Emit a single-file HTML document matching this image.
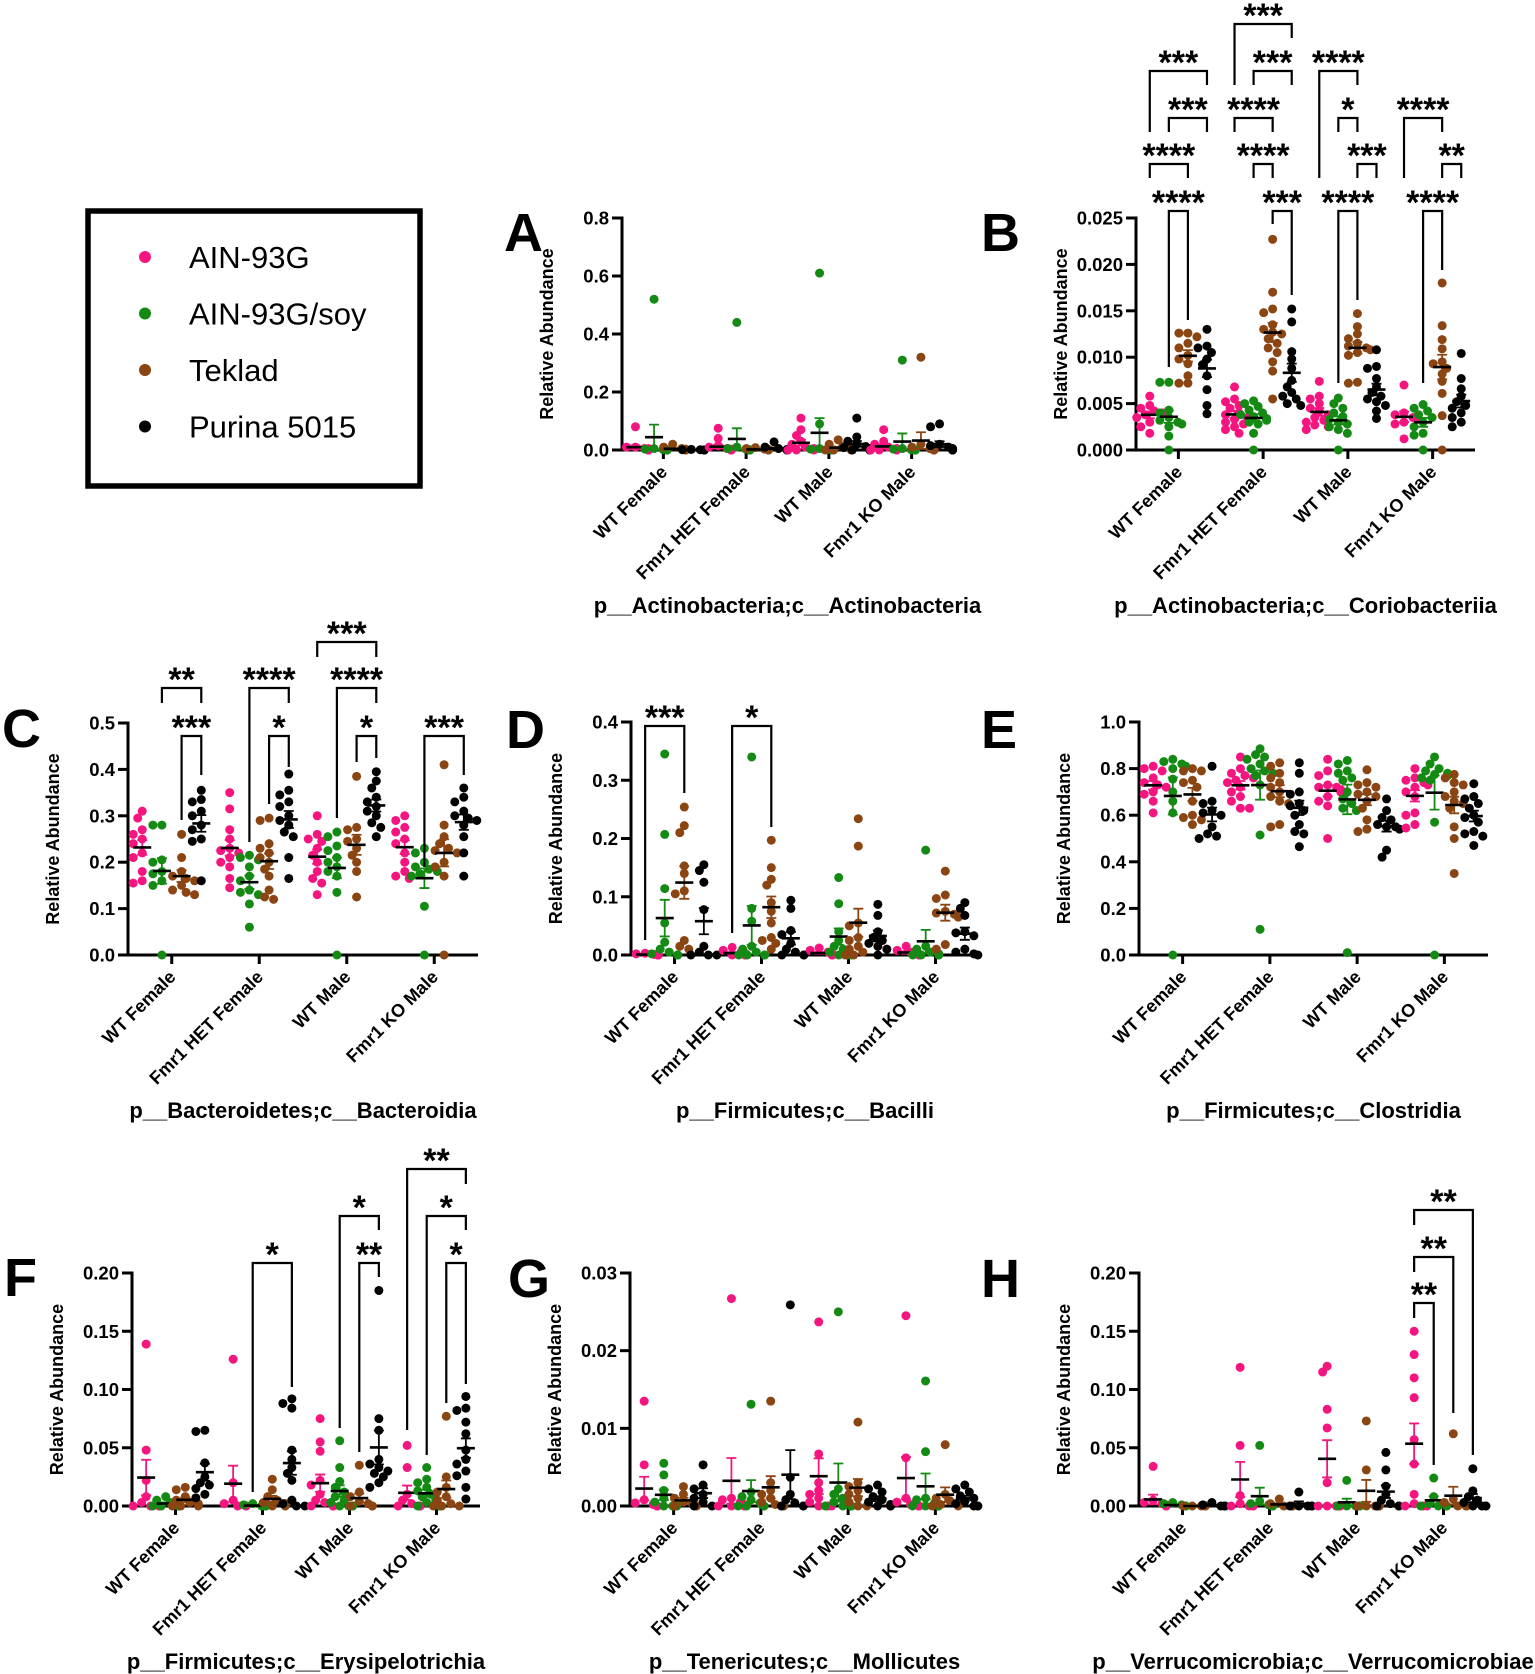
<!DOCTYPE html>
<html><head><meta charset="utf-8"><style>
html,body{margin:0;padding:0;background:#fff}
svg{display:block;font-family:"Liberation Sans",Arial,sans-serif}
</style></head><body>
<svg id="fig" width="1535" height="1674" viewBox="0 0 1535 1674" xmlns="http://www.w3.org/2000/svg"></svg>
<script>
const groups = ['WT Female','Fmr1 HET Female','WT Male','Fmr1 KO Male'];
const seriesNames = ['AIN-93G','AIN-93G/soy','Teklad','Purina 5015'];
const seriesColors = ['#f4157f','#148a14','#8b4513','#000000'];

const valuesA = [
 [[0.08,0.01,0.005,0.003,0.002,0.001,0,0,0,0,0.005,0.01],[0.52,0.005,0.003,0.002,0.001,0,0,0,0,0,0,0],[0.02,0.01,0.005,0.003,0.002,0.001,0,0,0,0],[0.002,0.001,0.001,0,0,0,0,0,0]],
 [[0.075,0.04,0.015,0.01,0.005,0.003,0.002,0,0,0,0,0,0],[0.44,0.01,0.005,0.003,0.001,0,0,0,0,0,0,0],[0.008,0.005,0.003,0.002,0.001,0,0,0,0],[0.028,0.01,0.005,0.002,0.001,0,0,0,0]],
 [[0.11,0.07,0.05,0.03,0.02,0.01,0.005,0.003,0.002,0,0,0],[0.61,0.09,0.005,0.003,0.002,0,0,0,0,0,0,0],[0.035,0.02,0.012,0.008,0.005,0.003,0.002,0,0,0,0],[0.11,0.045,0.03,0.02,0.012,0.008,0.005,0.002,0,0,0]],
 [[0.07,0.03,0.02,0.01,0.005,0.002,0,0,0,0,0],[0.31,0.005,0.003,0.001,0,0,0,0,0,0,0],[0.32,0.02,0.01,0.005,0.002,0,0,0,0,0,0],[0.09,0.08,0.02,0.015,0.01,0.005,0.003,0,0,0,0]]];
const valuesB = [
 [[0.0058,0.0048,0.0045,0.0042,0.004,0.0038,0.0035,0.003,0.0025,0.0018],[0.0073,0.0073,0.0043,0.004,0.0035,0.0032,0.003,0.0028,0.0025,0.0015,0],[0.0126,0.0126,0.0122,0.0115,0.011,0.0102,0.0098,0.0093,0.008,0.0072,0.0072],[0.013,0.0112,0.011,0.0105,0.0098,0.0092,0.008,0.0065,0.0048,0.0039]],
 [[0.0068,0.0055,0.0052,0.0048,0.0045,0.004,0.0038,0.0035,0.0033,0.003,0.0028,0.0025,0.0022,0.0018],[0.0053,0.005,0.0047,0.0043,0.004,0.0038,0.0036,0.0034,0.0032,0.003,0.0028,0.0018,0],[0.0227,0.017,0.0152,0.0148,0.0135,0.013,0.0127,0.0125,0.012,0.0115,0.011,0.0105,0.0095,0.0085,0.0055],[0.0152,0.0138,0.0106,0.0098,0.0088,0.0075,0.0068,0.0062,0.0058,0.0055,0.005,0.0048]],
 [[0.0074,0.0058,0.0055,0.005,0.0045,0.0042,0.0038,0.0035,0.0032,0.003,0.0027,0.0025,0.0022],[0.0056,0.005,0.0045,0.004,0.0036,0.0033,0.003,0.0028,0.0025,0.0022,0.0018,0],[0.0147,0.0133,0.0125,0.012,0.0115,0.0112,0.011,0.0108,0.0105,0.0102,0.0073,0.0072],[0.0108,0.009,0.0088,0.0077,0.0068,0.0062,0.0058,0.0055,0.0052,0.0048,0.0042,0.0034]],
 [[0.007,0.004,0.0038,0.0035,0.0033,0.003,0.0028,0.0012],[0.0049,0.0045,0.0042,0.0038,0.0035,0.003,0.0025,0.0018,0.0016,0],[0.018,0.0134,0.0119,0.0109,0.0095,0.0093,0.0088,0.0082,0.0074,0.0061,0.0037,0],[0.0104,0.0077,0.0066,0.0058,0.0052,0.0048,0.0045,0.004,0.0035,0.003,0.0025]]];
const valuesC = [
 [[0.31,0.295,0.27,0.26,0.25,0.24,0.22,0.21,0.18,0.16,0.155],[0.28,0.28,0.205,0.2,0.18,0.175,0.16,0.15,0],[0.26,0.21,0.18,0.17,0.165,0.16,0.15,0.14,0.135,0.13],[0.355,0.335,0.33,0.31,0.3,0.28,0.27,0.25,0.245,0.16]],
 [[0.35,0.315,0.27,0.25,0.23,0.225,0.22,0.21,0.2,0.19,0.165,0.145],[0.215,0.21,0.205,0.19,0.17,0.16,0.14,0.135,0.13,0.11,0.06],[0.295,0.29,0.24,0.23,0.22,0.21,0.2,0.185,0.17,0.14,0.125,0.12],[0.39,0.355,0.345,0.33,0.32,0.3,0.29,0.28,0.265,0.255,0.21,0.165]],
 [[0.3,0.26,0.25,0.245,0.23,0.215,0.2,0.18,0.165,0.155,0.13],[0.265,0.255,0.235,0.225,0.21,0.2,0.19,0.18,0.17,0.135,0],[0.385,0.275,0.27,0.25,0.245,0.23,0.215,0.2,0.18,0.125],[0.395,0.375,0.36,0.34,0.33,0.32,0.31,0.3,0.285,0.275,0.255]],
 [[0.3,0.29,0.275,0.265,0.25,0.24,0.22,0.2,0.18,0.17,0.165],[0.23,0.22,0.2,0.19,0.185,0.18,0.175,0.17,0.105,0],[0.41,0.28,0.255,0.24,0.23,0.225,0.22,0.2,0.19,0.17,0],[0.36,0.34,0.33,0.31,0.3,0.295,0.29,0.28,0.255,0.22,0.17]]];
const valuesD = [
 [[0.003,0.002,0.001,0.001,0,0,0,0,0,0],[0.345,0.207,0.114,0.055,0.022,0.01,0.005,0.002,0,0,0,0],[0.254,0.222,0.21,0.153,0.14,0.11,0.105,0.025,0.015,0.01],[0.155,0.145,0.125,0.078,0.015,0.005,0,0,0]],
 [[0.013,0.008,0.005,0.003,0.001,0,0,0,0],[0.34,0.08,0.058,0.015,0.01,0.005,0,0,0,0],[0.197,0.15,0.13,0.12,0.09,0.075,0.055,0.03,0.025,0.02,0.01],[0.094,0.08,0.042,0.035,0.02,0.01,0.005,0,0,0]],
 [[0.012,0.008,0.005,0.002,0,0,0,0],[0.133,0.088,0.04,0.025,0.015,0.01,0.005,0,0,0],[0.234,0.187,0.055,0.05,0.03,0.025,0.015,0.01,0.005,0,0],[0.087,0.068,0.04,0.03,0.025,0.02,0.015,0.01,0]],
 [[0.015,0.008,0.005,0.002,0,0,0],[0.18,0.015,0.01,0.005,0.002,0,0,0,0],[0.144,0.103,0.097,0.075,0.072,0.07,0.065,0.018,0.01],[0.09,0.08,0.068,0.04,0.038,0.033,0.01,0.005,0.002,0]]];
const valuesE = [
 [[0.81,0.8,0.79,0.76,0.74,0.73,0.72,0.7,0.69,0.66,0.61],[0.84,0.83,0.82,0.81,0.8,0.755,0.7,0.66,0.61,0],[0.8,0.79,0.79,0.75,0.74,0.72,0.66,0.6,0.59,0.58,0.56],[0.81,0.66,0.65,0.62,0.61,0.6,0.55,0.52,0.51,0.5]],
 [[0.85,0.8,0.78,0.77,0.76,0.75,0.74,0.72,0.7,0.68,0.66,0.63,0.63],[0.885,0.86,0.85,0.84,0.82,0.8,0.79,0.78,0.77,0.73,0.515,0.11],[0.825,0.81,0.78,0.76,0.74,0.72,0.7,0.68,0.66,0.65,0.56,0.55],[0.825,0.78,0.7,0.69,0.65,0.64,0.62,0.6,0.56,0.53,0.52,0.465]],
 [[0.84,0.79,0.77,0.73,0.72,0.72,0.71,0.7,0.68,0.66,0.64,0.5],[0.835,0.82,0.79,0.78,0.76,0.75,0.7,0.67,0.65,0.63,0.62,0.01],[0.795,0.74,0.73,0.72,0.7,0.69,0.68,0.66,0.63,0.58,0.54,0.53],[0.67,0.62,0.59,0.58,0.56,0.55,0.55,0.54,0.45,0.42]],
 [[0.8,0.76,0.75,0.74,0.73,0.72,0.7,0.68,0.61,0.6,0.56,0.545],[0.85,0.82,0.8,0.79,0.78,0.775,0.77,0.76,0.75,0.57,0],[0.775,0.76,0.74,0.73,0.7,0.68,0.66,0.65,0.63,0.55,0.5,0.35],[0.735,0.68,0.67,0.65,0.63,0.6,0.59,0.57,0.53,0.52,0.51,0.47]]];
const valuesF = [
 [[0.139,0.048,0.022,0.008,0.003,0,0,0,0],[0.008,0.005,0.003,0.002,0.001,0,0,0,0],[0.016,0.014,0.008,0.005,0.003,0.002,0,0,0],[0.065,0.064,0.037,0.025,0.02,0.018,0.015,0.01,0.007]],
 [[0.126,0.02,0.005,0.002,0,0,0,0],[0.002,0.001,0,0,0,0,0,0],[0.023,0.014,0.008,0.005,0.003,0.002,0,0,0],[0.092,0.088,0.084,0.048,0.04,0.033,0.028,0.022,0.005,0.002,0,0]],
 [[0.075,0.055,0.047,0.022,0.018,0.01,0.005,0.003,0,0,0,0],[0.056,0.033,0.021,0.016,0.012,0.008,0.005,0.003,0,0,0,0],[0.035,0.012,0.008,0.004,0.002,0,0,0,0],[0.185,0.075,0.065,0.04,0.036,0.033,0.03,0.028,0.025,0.02,0.016]],
 [[0.052,0.033,0.01,0.005,0.002,0,0,0,0],[0.033,0.023,0.02,0.016,0.013,0.01,0.008,0.005,0.003,0,0,0],[0.077,0.025,0.016,0.012,0.008,0.005,0.002,0,0,0],[0.094,0.084,0.082,0.072,0.062,0.048,0.04,0.036,0.03,0.026,0.016,0.006]]];
const valuesG = [
 [[0.0135,0.0053,0.0008,0.0004,0.0002,0,0,0,0],[0.0055,0.004,0.002,0.001,0.0005,0,0,0,0],[0.0025,0.0015,0.001,0.0005,0.0003,0,0,0],[0.0053,0.0027,0.0022,0.0015,0.001,0.0005,0,0]],
 [[0.0267,0.001,0.0008,0.0005,0.0002,0,0,0,0],[0.0131,0.0018,0.0012,0.0008,0.0004,0,0,0,0],[0.0135,0.003,0.002,0.0015,0.001,0.0005,0.0002,0,0],[0.0259,0.0037,0.0015,0.0008,0.0004,0,0,0]],
 [[0.0237,0.0067,0.003,0.002,0.0015,0.001,0.0005,0,0,0],[0.025,0.0022,0.0015,0.001,0.0005,0,0,0,0,0],[0.0108,0.003,0.0025,0.002,0.0015,0.001,0.0005,0,0],[0.0027,0.0022,0.0018,0.0012,0.0008,0.0005,0.0002,0,0,0]],
 [[0.0245,0.0062,0.001,0.0005,0.0002,0,0,0,0],[0.0161,0.007,0.001,0.0008,0.0004,0,0,0,0,0],[0.0079,0.0015,0.001,0.0007,0.0004,0.0002,0,0],[0.0027,0.0022,0.0018,0.0013,0.001,0.0006,0.0003,0,0,0]]];
const valuesH = [
 [[0.034,0.005,0.003,0.002,0.001,0,0,0],[0.003,0.002,0.001,0,0,0,0],[0,0,0,0,0,0,0],[0.003,0.001,0,0,0,0]],
 [[0.119,0.052,0.009,0.002,0,0,0,0],[0.052,0.004,0.002,0.001,0,0,0],[0.006,0.002,0,0,0,0],[0.012,0,0,0,0,0]],
 [[0.12,0.115,0.083,0.067,0.02,0,0,0,0,0],[0.022,0,0,0,0,0,0],[0.073,0.031,0,0,0,0,0,0],[0.046,0.031,0.017,0.01,0.005,0.002,0,0,0]],
 [[0.15,0.13,0.11,0.093,0.057,0.036,0.01,0.002,0,0,0],[0.024,0.008,0.002,0,0,0,0],[0.062,0.006,0.003,0,0,0,0,0],[0.032,0.013,0.008,0.005,0.003,0,0,0,0]]];

const ticksA=[0,0.2,0.4,0.6,0.8], tickLabelsA=['0.0','0.2','0.4','0.6','0.8'];
const ticksB=[0,0.005,0.01,0.015,0.02,0.025], tickLabelsB=['0.000','0.005','0.010','0.015','0.020','0.025'];
const ticksC=[0,0.1,0.2,0.3,0.4,0.5], tickLabelsC=['0.0','0.1','0.2','0.3','0.4','0.5'];
const ticksD=[0,0.1,0.2,0.3,0.4], tickLabelsD=['0.0','0.1','0.2','0.3','0.4'];
const ticksE=[0,0.2,0.4,0.6,0.8,1.0], tickLabelsE=['0.0','0.2','0.4','0.6','0.8','1.0'];
const ticksF=[0,0.05,0.1,0.15,0.2], tickLabelsF=['0.00','0.05','0.10','0.15','0.20'];
const ticksG=[0,0.01,0.02,0.03], tickLabelsG=['0.00','0.01','0.02','0.03'];
const ticksH=[0,0.05,0.1,0.15,0.2], tickLabelsH=['0.00','0.05','0.10','0.15','0.20'];

const bracketsB=[[0,1,2,'****'],[0,0,2,'****'],[0,1,3,'***'],[0,0,3,'***'],[1,2,3,'***'],[1,1,2,'****'],[1,0,2,'****'],[1,1,3,'***'],[1,0,3,'***'],[2,1,2,'****'],[2,2,3,'***'],[2,1,2,'*'],[2,0,2,'****'],[3,1,2,'****'],[3,2,3,'**'],[3,0,2,'****']];
const bracketsC=[[0,2,3,'***'],[0,1,3,'**'],[1,2,3,'*'],[1,1,3,'****'],[2,2,3,'*'],[2,1,3,'****'],[2,0,3,'***'],[3,1,3,'***']];
const bracketsD=[[0,0,2,'***'],[1,0,2,'*']];
const bracketsF=[[1,1,3,'*'],[2,2,3,'**'],[2,1,3,'*'],[3,2,3,'*'],[3,1,3,'*'],[3,0,3,'**']];
const bracketsH=[[3,0,1,'**'],[3,0,2,'**'],[3,0,3,'**']];
const bracketPosB=[[211,367,320],[164,178,178],[118,132,132],[71,132,85],[211,224,295],[164,178,178],[118,132,132],[71,85,85],[24,85,38],[211,383,300],[164,178,178],[118,132,132],[71,178,85],[211,383,270],[164,178,178],[118,178,132]];
const bracketPosC=[[736,820,775],[688,703,703],[736,804,767],[688,842,703],[736,762,758],[688,818,703],[642,657,657],[736,867,775]];
const bracketPosD=[[726,940,793],[726,933,827]];
const bracketPosF=[[1263,1492,1387],[1263,1452,1277],[1216,1428,1230],[1263,1403,1384],[1216,1455,1230],[1169,1430,1184]];
const bracketPosH=[[1303,1318,1465],[1257,1272,1413],[1210,1225,1455]];

const panels=[
 {id:'a',letter:'A',lx:504,ly:251,ax:622,top:218,bot:450,end:953,ymax:0.8,vals:valuesA,ticks:ticksA,tl:tickLabelsA,title:'p__Actinobacteria;c__Actinobacteria',br:[],bp:[]},
 {id:'b',letter:'B',lx:981,ly:251,ax:1136,top:218,bot:450,end:1475,ymax:0.025,vals:valuesB,ticks:ticksB,tl:tickLabelsB,title:'p__Actinobacteria;c__Coriobacteriia',br:bracketsB,bp:bracketPosB},
 {id:'c',letter:'C',lx:2,ly:747,ax:128,top:723,bot:955,end:478,ymax:0.5,vals:valuesC,ticks:ticksC,tl:tickLabelsC,title:'p__Bacteroidetes;c__Bacteroidia',br:bracketsC,bp:bracketPosC},
 {id:'d',letter:'D',lx:506,ly:748,ax:631,top:722,bot:955,end:979,ymax:0.4,vals:valuesD,ticks:ticksD,tl:tickLabelsD,title:'p__Firmicutes;c__Bacilli',br:bracketsD,bp:bracketPosD},
 {id:'e',letter:'E',lx:981,ly:748,ax:1139,top:722,bot:955,end:1488,ymax:1.0,vals:valuesE,ticks:ticksE,tl:tickLabelsE,title:'p__Firmicutes;c__Clostridia',br:[],bp:[]},
 {id:'f',letter:'F',lx:4,ly:1296,ax:132,top:1273,bot:1506,end:480,ymax:0.2,vals:valuesF,ticks:ticksF,tl:tickLabelsF,title:'p__Firmicutes;c__Erysipelotrichia',br:bracketsF,bp:bracketPosF},
 {id:'g',letter:'G',lx:508,ly:1297,ax:630,top:1273,bot:1506,end:979,ymax:0.03,vals:valuesG,ticks:ticksG,tl:tickLabelsG,title:'p__Tenericutes;c__Mollicutes',br:[],bp:[]},
 {id:'h',letter:'H',lx:981,ly:1297,ax:1139,top:1273,bot:1506,end:1487,ymax:0.2,vals:valuesH,ticks:ticksH,tl:tickLabelsH,title:'p__Verrucomicrobia;c__Verrucomicrobiae',br:bracketsH,bp:bracketPosH}
];

const NS='http://www.w3.org/2000/svg';
const svg=document.getElementById('fig');
function mk(tag,attrs,parent){const e=document.createElementNS(NS,tag);for(const k in attrs)e.setAttribute(k,attrs[k]);(parent||svg).appendChild(e);return e;}

const lg=mk('g',{});


const lbox=mk('rect',{x:88,y:211,width:332,height:275,fill:'none',stroke:'#000','stroke-width':5.5},lg);


seriesNames.forEach((n,i)=>{
  const y=257+i*56.5;
  const ent=mk('g',{},lg);
  
  
  mk('circle',{cx:145,cy:y,r:6,fill:seriesColors[i]},ent);
  const t=mk('text',{x:189,y:y+11,'font-size':31,fill:'#000'},ent);
  t.textContent=n;
});

panels.forEach(p=>{
  const g=mk('g',{});
  
  
  const yS=v=>p.bot-(v/p.ymax)*(p.bot-p.top);
  const gw=(p.end-p.ax)/4;
  const gX=i=>p.ax+gw*(i+0.5);
  const cX=(i,s)=>gX(i)+(s-1.5)*gw*0.225;
  const L=mk('text',{x:p.lx,y:p.ly,'font-size':54,'font-weight':'bold'},g);
  L.textContent=p.letter;
  
  
  const cy=(p.top+p.bot)/2, tx=p.ax-75;
  const yt=mk('text',{x:tx,y:cy,'font-size':18,'font-weight':'bold','text-anchor':'middle','dominant-baseline':'central',transform:`rotate(-90 ${tx} ${cy})`},g);
  yt.textContent='Relative Abundance';
  
  
  const ya=mk('line',{x1:p.ax,y1:p.top-1.5,x2:p.ax,y2:p.bot+1.5,stroke:'#000','stroke-width':3},g);
  
  
  const xa=mk('line',{x1:p.ax-1.5,y1:p.bot,x2:p.end,y2:p.bot,stroke:'#000','stroke-width':3},g);
  
  
  p.ticks.forEach((t,i)=>{
    const y=yS(t);
    mk('line',{x1:p.ax-10,y1:y,x2:p.ax,y2:y,stroke:'#000','stroke-width':3},g);
    const tl=mk('text',{x:p.ax-13,y:y+6.5,'font-size':18.5,'font-weight':'bold','text-anchor':'end'},g);
    tl.textContent=p.tl[i];
    
    
  });
  groups.forEach((gn,i)=>{
    const x=gX(i);
    mk('line',{x1:x,y1:p.bot,x2:x,y2:p.bot+9,stroke:'#000','stroke-width':3},g);
    const lx=x+5, ly=p.bot+23;
    const xl=mk('text',{x:lx,y:ly,'font-size':18,'font-weight':'bold','text-anchor':'end',transform:`rotate(-45 ${lx} ${ly})`},g);
    xl.textContent=gn;
    
    
  });
  const bt=mk('text',{x:(p.ax+p.end)/2,y:p.bot+163,'font-size':22,'font-weight':'bold','text-anchor':'middle'},g);
  bt.textContent=p.title;
  
  
  p.vals.forEach((grp,i)=>{
    grp.forEach((arr,s)=>{
      const cx=cX(i,s), col=seriesColors[s];
      const placed=[];
      const sorted=arr.slice().sort((a,b)=>b-a);
      sorted.forEach(v=>{
        const y=yS(v);
        const offs=[0,-4.5,4.5,-9,9,-13,13];
        let ox=0;
        for(const o of offs){if(!placed.some(q=>Math.hypot(q[0]-(cx+o),q[1]-y)<7)){ox=o;break;}ox=o;}
        placed.push([cx+ox,y]);
        const c=mk('circle',{cx:cx+ox,cy:y,r:4.5,fill:col},g);
        
        
      });
      const n=arr.length, m=arr.reduce((a,b)=>a+b,0)/n;
      const sd=Math.sqrt(arr.reduce((a,b)=>a+(b-m)*(b-m),0)/(n-1));
      const se=sd/Math.sqrt(n);
      const e1=yS(m+se), e2=yS(Math.max(0,m-se));
      const eb=mk('path',{d:`M${cx} ${e1}V${e2}M${cx-5} ${e1}H${cx+5}M${cx-5} ${e2}H${cx+5}`,stroke:col,'stroke-width':1.8,fill:'none'},g);
      
      
      const ml=mk('line',{x1:cx-9,y1:yS(m),x2:cx+9,y2:yS(m),stroke:'#000','stroke-width':2.6},g);
      
      
    });
  });
  p.br.forEach((b,k)=>{
    const [gi,s1,s2,lab]=b, [top,lb,rb]=p.bp[k];
    const x1=cX(gi,s1), x2=cX(gi,s2);
    const bk=mk('path',{d:`M${x1} ${lb}V${top}H${x2}V${rb}`,stroke:'#000','stroke-width':2.2,fill:'none'},g);
    
    
    const st=mk('text',{x:(x1+x2)/2,y:top+3,'font-size':34,'font-weight':'bold','text-anchor':'middle'},g);
    st.textContent=lab;
    
    
  });
});
</script>
</body></html>
